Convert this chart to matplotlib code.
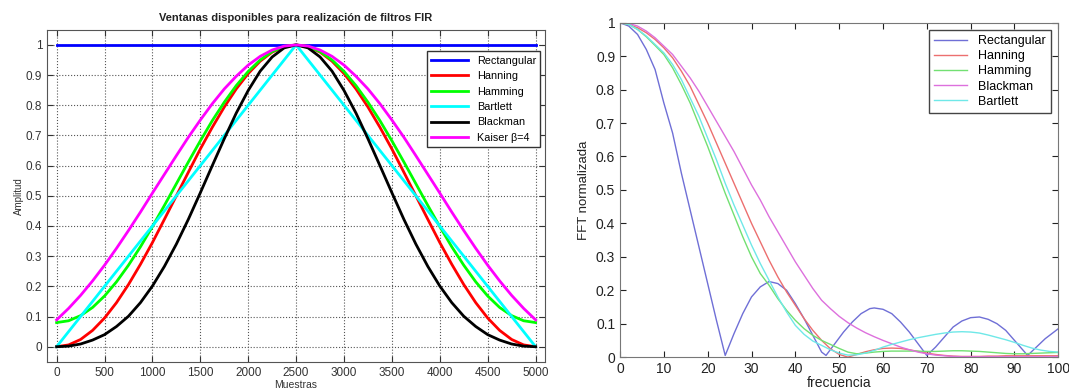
import numpy as np
import matplotlib.pyplot as plt
from matplotlib.ticker import FormatStrFormatter, MultipleLocator

plt.rcParams['font.family'] = ['Liberation Sans', 'DejaVu Sans']

# ---- left panel: window shapes (read every 125 samples) ----
muestras = list(range(0, 5001, 125))
rectangular = [1.0] * 41
hanning = [0.0, 0.006, 0.024, 0.054, 0.095, 0.146, 0.206, 0.273, 0.345, 0.422, 0.5,
           0.578, 0.655, 0.727, 0.794, 0.854, 0.905, 0.946, 0.976, 0.994, 1.0,
           0.994, 0.976, 0.946, 0.905, 0.854, 0.794, 0.727, 0.655, 0.578, 0.5,
           0.422, 0.345, 0.273, 0.206, 0.146, 0.095, 0.054, 0.024, 0.006, 0.0]
hamming = [0.08, 0.086, 0.103, 0.130, 0.168, 0.215, 0.270, 0.331, 0.398, 0.468, 0.54,
           0.612, 0.682, 0.749, 0.810, 0.865, 0.912, 0.950, 0.978, 0.994, 1.0,
           0.994, 0.978, 0.950, 0.912, 0.865, 0.810, 0.749, 0.682, 0.612, 0.54,
           0.468, 0.398, 0.331, 0.270, 0.215, 0.168, 0.130, 0.103, 0.086, 0.08]
bartlett = [0.0, 0.05, 0.1, 0.15, 0.2, 0.25, 0.3, 0.35, 0.4, 0.45, 0.5,
            0.55, 0.6, 0.65, 0.7, 0.75, 0.8, 0.85, 0.9, 0.95, 1.0,
            0.95, 0.9, 0.85, 0.8, 0.75, 0.7, 0.65, 0.6, 0.55, 0.5,
            0.45, 0.4, 0.35, 0.3, 0.25, 0.2, 0.15, 0.1, 0.05, 0.0]
blackman = [0.0, 0.002, 0.009, 0.022, 0.040, 0.067, 0.101, 0.146, 0.201, 0.266, 0.34,
            0.422, 0.510, 0.600, 0.689, 0.774, 0.849, 0.913, 0.960, 0.990, 1.0,
            0.990, 0.960, 0.913, 0.849, 0.774, 0.689, 0.600, 0.510, 0.422, 0.34,
            0.266, 0.201, 0.146, 0.101, 0.067, 0.040, 0.022, 0.009, 0.002, 0.0]
kaiser = [0.089, 0.127, 0.170, 0.218, 0.270, 0.326, 0.385, 0.446, 0.509, 0.571, 0.633,
          0.694, 0.751, 0.805, 0.854, 0.896, 0.933, 0.962, 0.983, 0.996, 1.0,
          0.996, 0.983, 0.962, 0.933, 0.896, 0.854, 0.805, 0.751, 0.694, 0.633,
          0.571, 0.509, 0.446, 0.385, 0.326, 0.270, 0.218, 0.170, 0.127, 0.089]

# ---- right panel: normalised FFT magnitude ----
frec = list(range(0, 101, 2))
fft_hanning = [1.0, 0.995, 0.985, 0.97, 0.95, 0.925, 0.895, 0.855, 0.81, 0.755, 0.70,
               0.64, 0.58, 0.52, 0.46, 0.40, 0.345, 0.29, 0.24, 0.195, 0.155,
               0.115, 0.08, 0.05, 0.025, 0.008, 0.0, 0.008, 0.016, 0.022, 0.026,
               0.027, 0.026, 0.022, 0.017, 0.012, 0.008, 0.005, 0.003, 0.002, 0.002,
               0.002, 0.003, 0.003, 0.004, 0.004, 0.004, 0.004, 0.004, 0.004, 0.004]
fft_hamming = [1.0, 0.995, 0.98, 0.958, 0.932, 0.905, 0.865, 0.815, 0.76, 0.695, 0.63,
               0.56, 0.49, 0.425, 0.36, 0.30, 0.25, 0.215, 0.175, 0.14, 0.11,
               0.085, 0.065, 0.05, 0.038, 0.026, 0.015, 0.01, 0.012, 0.015, 0.017,
               0.018, 0.018, 0.018, 0.018, 0.017, 0.017, 0.018, 0.019, 0.019, 0.018,
               0.017, 0.015, 0.013, 0.011, 0.01, 0.01, 0.011, 0.012, 0.013, 0.014]
fft_blackman = [1.0, 0.998, 0.99, 0.975, 0.955, 0.93, 0.905, 0.87, 0.835, 0.795, 0.75,
                0.705, 0.66, 0.615, 0.565, 0.515, 0.47, 0.42, 0.375, 0.33, 0.285,
                0.245, 0.205, 0.17, 0.145, 0.122, 0.103, 0.087, 0.073, 0.061, 0.05,
                0.04, 0.03, 0.022, 0.015, 0.01, 0.006, 0.004, 0.002, 0.001, 0.001,
                0.001, 0.001, 0.001, 0.001, 0.001, 0.001, 0.001, 0.001, 0.001, 0.001]
fft_bartlett = [1.0, 0.995, 0.98, 0.96, 0.935, 0.91, 0.875, 0.83, 0.775, 0.72, 0.655,
                0.59, 0.52, 0.455, 0.395, 0.335, 0.28, 0.23, 0.18, 0.135, 0.095,
                0.068, 0.048, 0.035, 0.022, 0.012, 0.006, 0.007, 0.012, 0.02, 0.03,
                0.038, 0.045, 0.052, 0.058, 0.063, 0.068, 0.072, 0.075, 0.076, 0.075,
                0.072, 0.066, 0.059, 0.052, 0.044, 0.035, 0.027, 0.021, 0.017, 0.015]
frec_rect = [0, 2, 4, 6, 8, 10, 12, 14, 16, 18, 20, 22, 24,
             26, 28, 30, 32, 34, 36, 38, 40, 42, 44, 46, 47,
             49, 51, 53, 55, 57, 58, 60, 62, 64, 66, 68, 70,
             72, 74, 76, 78, 80, 82, 84, 86, 88, 90, 92, 93,
             95, 97, 100]
fft_rect = [1.0, 0.99, 0.965, 0.92, 0.86, 0.76, 0.67, 0.55, 0.44, 0.33, 0.22, 0.11, 0.005,
            0.07, 0.13, 0.18, 0.21, 0.226, 0.22, 0.20, 0.16, 0.115, 0.065, 0.015, 0.005,
            0.04, 0.075, 0.105, 0.13, 0.145, 0.147, 0.143, 0.13, 0.105, 0.075, 0.04, 0.005,
            0.03, 0.06, 0.09, 0.108, 0.118, 0.12, 0.113, 0.10, 0.08, 0.05, 0.02, 0.005,
            0.03, 0.055, 0.085]

fig = plt.figure(figsize=(10.69, 3.92), dpi=100)

# left
ax1 = fig.add_axes([0.044, 0.077, 0.466, 0.847])
ax1.plot(muestras, rectangular, color='#0000ff', lw=2, label='Rectangular')
ax1.plot(muestras, hanning, color='#ff0000', lw=2, label='Hanning')
ax1.plot(muestras, hamming, color='#00ff00', lw=2, label='Hamming')
ax1.plot(muestras, bartlett, color='#00ffff', lw=2, label='Bartlett')
ax1.plot(muestras, blackman, color='#000000', lw=2, label='Blackman')
ax1.plot(muestras, kaiser, color='#ff00ff', lw=2, label='Kaiser β=4')
ax1.set_xlim(-100, 5100)
ax1.set_ylim(-0.05, 1.05)
ax1.xaxis.set_major_locator(MultipleLocator(500))
ax1.yaxis.set_major_locator(MultipleLocator(0.1))
ax1.yaxis.set_major_formatter(FormatStrFormatter('%g'))
ax1.grid(True, linestyle=':', color='#555555', lw=0.8)
ax1.tick_params(direction='in', top=True, right=True, labelsize=8.5,
                colors='#333333', length=4)
for s in ax1.spines.values():
    s.set_color('#555555')
ax1.set_title('Ventanas disponibles para realización de filtros FIR',
              fontsize=8, fontweight='bold', pad=6, color='#222222')
ax1.set_xlabel('Muestras', fontsize=7.5, labelpad=1, color='#333333')
ax1.set_ylabel('Amplitud', fontsize=7, labelpad=1, color='#333333')
leg1 = ax1.legend(loc='upper right', bbox_to_anchor=(0.99, 0.935),
                  fontsize=7.8, handlelength=3.4, labelspacing=0.5,
                  borderaxespad=0, fancybox=False, framealpha=1)
leg1.get_frame().set_edgecolor('#333333')

# right
ax2 = fig.add_axes([0.58, 0.089, 0.41, 0.853])
ax2.plot(frec_rect, fft_rect, color='#6f6fd6', lw=1, label='Rectangular')
ax2.plot(frec, fft_hanning, color='#ec6f6f', lw=1, label='Hanning')
ax2.plot(frec, fft_hamming, color='#72e072', lw=1, label='Hamming')
ax2.plot(frec, fft_blackman, color='#dd70dd', lw=1, label='Blackman')
ax2.plot(frec, fft_bartlett, color='#6fe8e8', lw=1, label='Bartlett')
ax2.set_xlim(0, 100)
ax2.set_ylim(0, 1)
ax2.xaxis.set_major_locator(MultipleLocator(10))
ax2.yaxis.set_major_locator(MultipleLocator(0.1))
ax2.yaxis.set_major_formatter(FormatStrFormatter('%g'))
ax2.tick_params(direction='in', top=True, right=True, labelsize=10,
                colors='#222222', length=4)
for s in ax2.spines.values():
    s.set_color('#777777')
ax2.set_xlabel('frecuencia', fontsize=10, labelpad=0, color='#222222')
ax2.set_ylabel('FFT normalizada', fontsize=9.5, labelpad=4, color='#222222')
leg2 = ax2.legend(loc='upper right', fontsize=9, handlelength=2.6,
                  labelspacing=0.25, borderaxespad=0.6, handletextpad=0.9,
                  fancybox=False, framealpha=1)
leg2.get_frame().set_edgecolor('#444444')

fig.savefig('out.png', dpi=100)
